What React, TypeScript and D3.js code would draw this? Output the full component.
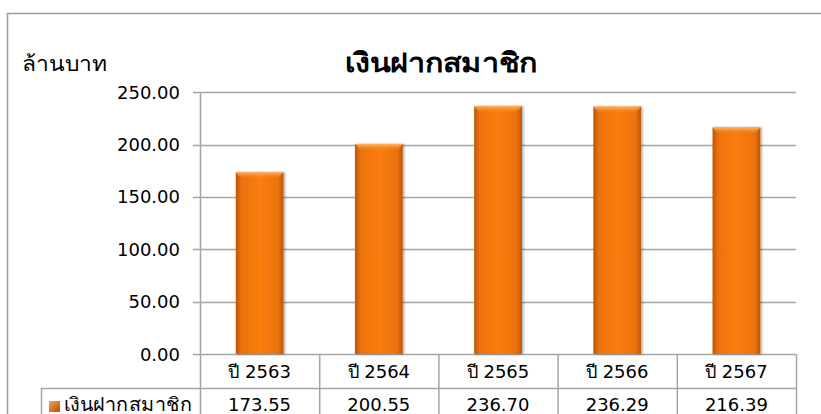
import React from 'react';
import * as d3 from 'd3';

const categories = ['ปี 2563', 'ปี 2564', 'ปี 2565', 'ปี 2566', 'ปี 2567'];
const values = [173.55, 200.55, 236.7, 236.29, 216.39];
const valueLabels = ['173.55', '200.55', '236.70', '236.29', '216.39'];
const yTicks = [0, 50, 100, 150, 200, 250];
const seriesName = 'เงินฝากสมาชิก';
const title = 'เงินฝากสมาชิก';
const unitLabel = 'ล้านบาท';

const W = 821;
const H = 414;
const font = "Tahoma, 'DejaVu Sans', sans-serif";
const grid = '#a5a5a5';

const App = () => {
  const plotLeft = 200;
  const plotRight = 796;
  const plotTop = 92.3;
  const plotBottom = 354;

  const x = d3.scaleBand().domain(categories).range([plotLeft, plotRight]).paddingInner(0).paddingOuter(0);
  const y = d3.scaleLinear().domain([0, 250]).range([plotBottom, plotTop]);
  const barW = x.bandwidth() * 0.4;

  const rowMid = 388;
  const legendLeft = 41;

  return (
    <svg width={W} height={H} style={{ position: 'absolute', left: 0, top: 0 }} fontFamily={font}>
      <defs>
        <linearGradient id="barGrad" x1="0" x2="1" y1="0" y2="0">
          <stop offset="0" stopColor="#c05604" />
          <stop offset="0.12" stopColor="#ec720c" />
          <stop offset="0.5" stopColor="#fa7d12" />
          <stop offset="0.88" stopColor="#ec720c" />
          <stop offset="1" stopColor="#c05604" />
        </linearGradient>
        <linearGradient id="topGrad" x1="0" x2="0" y1="0" y2="1">
          <stop offset="0" stopColor="#ffb466" />
          <stop offset="1" stopColor="#f57a12" stopOpacity="0" />
        </linearGradient>
        <linearGradient id="legGrad" x1="0" x2="1" y1="0" y2="1">
          <stop offset="0" stopColor="#f7a04a" />
          <stop offset="1" stopColor="#b45204" />
        </linearGradient>
        <filter id="shadow" x="-20%" y="-5%" width="140%" height="110%">
          <feDropShadow dx="1.5" dy="0" stdDeviation="1.2" floodColor="#000" floodOpacity="0.35" />
        </filter>
      </defs>
      <rect x={0} y={0} width={W} height={H} fill="#fff" />
      {/* outer chart border */}
      <rect x={7.5} y={13.5} width={W + 20} height={H + 20} fill="none" stroke="#9c9c9c" strokeWidth={1.5} />

      <text x={441} y={72} textAnchor="middle" fontSize={27} fontWeight="bold" fill="#000"
        textLength={192} lengthAdjust="spacingAndGlyphs">{title}</text>
      <text x={22} y={71} fontSize={21} fill="#000" textLength={85} lengthAdjust="spacingAndGlyphs">{unitLabel}</text>

      {/* gridlines + y labels */}
      {yTicks.map((t) => (
        <g key={t}>
          <line x1={plotLeft - 7} x2={plotRight} y1={Math.round(y(t)) + 0.5} y2={Math.round(y(t)) + 0.5} stroke={grid} strokeWidth={1.5} />
          <text x={180} y={y(t) + 6.5} textAnchor="end" fontSize={18} fill="#000">{t.toFixed(2)}</text>
        </g>
      ))}

      {/* bars */}
      {values.map((v, i) => {
        const bx = (x(categories[i]) as number) + (x.bandwidth() - barW) / 2;
        const by = y(v);
        const bh = y(0) - by;
        return (
          <g key={i}>
            <rect x={bx} y={by} width={barW} height={bh} fill="url(#barGrad)" filter="url(#shadow)" />
            <path
              d={`M${bx},${by} L${bx + barW},${by} L${bx + barW - 6},${by + 7} L${bx + 6},${by + 7} Z`}
              fill="url(#topGrad)"
            />
          </g>
        );
      })}

      {/* axis line */}
      <line x1={plotLeft + 0.5} x2={plotLeft + 0.5} y1={plotTop} y2={H} stroke={grid} strokeWidth={1.5} />

      {/* data table */}
      <line x1={legendLeft} x2={plotRight} y1={rowMid + 0.5} y2={rowMid + 0.5} stroke={grid} strokeWidth={1.5} />
      <line x1={legendLeft + 0.5} x2={legendLeft + 0.5} y1={rowMid} y2={H} stroke={grid} strokeWidth={1.5} />
      {categories.map((c, i) => {
        const cx = (x(c) as number) + x.bandwidth() / 2;
        const right = (x(c) as number) + x.bandwidth();
        return (
          <g key={c}>
            <line x1={right + 0.5} x2={right + 0.5} y1={plotBottom} y2={H} stroke={grid} strokeWidth={1.5} />
            <text x={cx} y={378} textAnchor="middle" fontSize={18} fill="#000">{c}</text>
            <text x={cx} y={411} textAnchor="middle" fontSize={18} fill="#000">{valueLabels[i]}</text>
          </g>
        );
      })}
      <rect x={49} y={401} width={11} height={11} fill="url(#legGrad)" />
      <text x={64} y={411} fontSize={19} fill="#000" textLength={128} lengthAdjust="spacingAndGlyphs">{seriesName}</text>
    </svg>
  );
};

export default App;
